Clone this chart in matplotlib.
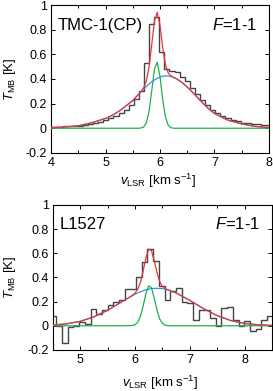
import numpy as np
import matplotlib.pyplot as plt
from matplotlib.ticker import MultipleLocator, FuncFormatter

plt.rcParams['font.family'] = ['Liberation Sans', 'DejaVu Sans']
plt.rcParams['mathtext.fontset'] = 'custom'
plt.rcParams['mathtext.rm'] = 'Liberation Sans'
plt.rcParams['mathtext.it'] = 'Liberation Sans:italic'
plt.rcParams['axes.unicode_minus'] = False

# --- TMC-1(CP) spectrum (channel start, width, T_MB per channel)
tmc_v0 = 3.93
tmc_dv = 0.0935
tmc_tmb = [0.010, 0.010, 0.012, 0.015, 0.018, 0.020, 0.022, 0.028, 0.033, 0.040,
           0.050, 0.065, 0.080, 0.100, 0.120, 0.150, 0.190, 0.235, 0.300, 0.530,
           0.850, 0.900, 0.620, 0.480, 0.465, 0.455, 0.420, 0.385, 0.330, 0.276,
           0.230, 0.190, 0.150, 0.120, 0.100, 0.080, 0.065, 0.055, 0.045, 0.040,
           0.035, 0.032, 0.030, 0.030]

# fitted components (broad + narrow)
tmc_model_v = [4.0, 4.25, 4.5, 4.75, 5.0, 5.1, 5.2, 5.3, 5.4, 5.5,
               5.6, 5.65, 5.7, 5.75, 5.8, 5.85, 5.9, 5.95, 6.0, 6.05,
               6.1, 6.15, 6.2, 6.25, 6.3, 6.4, 6.5, 6.6, 6.7, 6.8,
               6.9, 7.0, 7.25, 7.5, 7.75, 8.0]
tmc_broad = [0.005, 0.01, 0.02, 0.045, 0.08, 0.10, 0.125, 0.155, 0.19, 0.225,
             0.272, 0.295, 0.318, 0.339, 0.359, 0.377, 0.392, 0.405, 0.415, 0.422,
             0.425, 0.424, 0.420, 0.413, 0.403, 0.373, 0.335, 0.291, 0.244, 0.198,
             0.156, 0.12, 0.065, 0.035, 0.015, 0.006]
tmc_narrow = [0, 0, 0, 0, 0, 0, 0, 0, 0, 0,
              0.0, 0.002, 0.010, 0.044, 0.139, 0.308, 0.483, 0.536, 0.421, 0.234,
              0.092, 0.026, 0.005, 0.0, 0.0, 0, 0, 0, 0, 0,
              0, 0, 0, 0, 0, 0]

# --- L1527 spectrum
l1527_v0 = 4.458
l1527_dv = 0.104
l1527_tmb = [0.08, 0.0, -0.14, -0.01, 0.0, 0.03, 0.017, 0.14, 0.10, 0.128,
             0.175, 0.20, 0.215, 0.305, 0.305, 0.40, 0.525, 0.635, 0.535, 0.33,
             0.215, 0.29, 0.315, 0.20, 0.19, 0.05, 0.128, 0.128, 0.064, 0.0,
             0.147, 0.155, 0.05, 0.0, 0.04, -0.04, -0.03, 0.045, 0.08]

l1527_model_v = [4.5, 4.75, 5.0, 5.25, 5.5, 5.75, 5.95, 6.0, 6.05, 6.1,
                 6.15, 6.2, 6.25, 6.3, 6.35, 6.4, 6.45, 6.5, 6.55, 6.6,
                 6.75, 7.0, 7.25, 7.5, 7.75, 8.0, 8.25, 8.5]
l1527_broad = [0.006, 0.016, 0.037, 0.074, 0.129, 0.196, 0.249, 0.261, 0.272, 0.281,
               0.290, 0.297, 0.303, 0.307, 0.309, 0.310, 0.309, 0.307, 0.303, 0.297,
               0.272, 0.21, 0.142, 0.084, 0.043, 0.019, 0.008, 0.003]
l1527_narrow = [0, 0, 0, 0, 0, 0, 0.002, 0.009, 0.030, 0.081,
                0.168, 0.269, 0.331, 0.314, 0.230, 0.130, 0.056, 0.019, 0.005, 0.0,
                0, 0, 0, 0, 0, 0, 0, 0]

RED = '#e8343c'
GREEN = '#1db14b'
BLUE = '#2a9ad8'
HIST = '#444444'


def panel(ax, v0, dv, tmb, mv, broad, narrow, xlim, name):
    edges = v0 + dv * np.arange(len(tmb) + 1)
    ax.stairs(tmb, edges, color=HIST, lw=1.0, zorder=2)
    mv = np.array(mv)
    broad = np.array(broad)
    narrow = np.array(narrow)
    ax.plot(mv, broad, color=BLUE, lw=0.9, zorder=3)
    ax.plot(mv, narrow, color=GREEN, lw=0.9, zorder=3)
    ax.plot(mv, broad + narrow, color=RED, lw=0.9, zorder=4)

    ax.set_xlim(*xlim)
    ax.set_ylim(-0.2, 1.0)
    ax.xaxis.set_major_locator(MultipleLocator(1))
    ax.xaxis.set_minor_locator(MultipleLocator(0.5))
    ax.yaxis.set_major_locator(MultipleLocator(0.2))
    fmt = FuncFormatter(lambda v, p: f'{v:g}' if abs(v) > 1e-9 else '0')
    ax.xaxis.set_major_formatter(fmt)
    ax.yaxis.set_major_formatter(fmt)
    ax.tick_params(which='both', direction='in', top=True, right=True,
                   labelsize=9, width=0.7, pad=3)
    ax.tick_params(which='major', length=3)
    ax.tick_params(which='minor', length=2.5)
    for s in ax.spines.values():
        s.set_linewidth(0.8)

    ax.set_xlabel(r'$v_{\rm LSR}$ [km s$^{-1}$]', fontsize=9.5)
    ax.set_ylabel(r'$T_{\rm MB}$ [K]', fontsize=9.5)
    ax.text(0.03, 0.865, name, transform=ax.transAxes, fontsize=12,
            ha='left', va='center')
    ax.text(0.945, 0.865, r'$F$=1-1', transform=ax.transAxes, fontsize=12,
            ha='right', va='center')


fig = plt.figure(figsize=(2.73, 3.91), dpi=100)
ax1 = fig.add_axes([0.187, 0.609, 0.798, 0.378])
ax2 = fig.add_axes([0.194, 0.105, 0.802, 0.371])

panel(ax1, tmc_v0, tmc_dv, tmc_tmb, tmc_model_v, tmc_broad, tmc_narrow,
      (4, 8), 'TMC-1(CP)')
panel(ax2, l1527_v0, l1527_dv, l1527_tmb, l1527_model_v, l1527_broad,
      l1527_narrow, (4.5, 8.5), 'L1527')

ax1.yaxis.set_label_coords(-0.15, 0.5)
ax1.xaxis.set_label_coords(0.49, -0.13)
ax2.yaxis.set_label_coords(-0.16, 0.5)
ax2.xaxis.set_label_coords(0.49, -0.165)

fig.savefig('out.png', dpi=100)
